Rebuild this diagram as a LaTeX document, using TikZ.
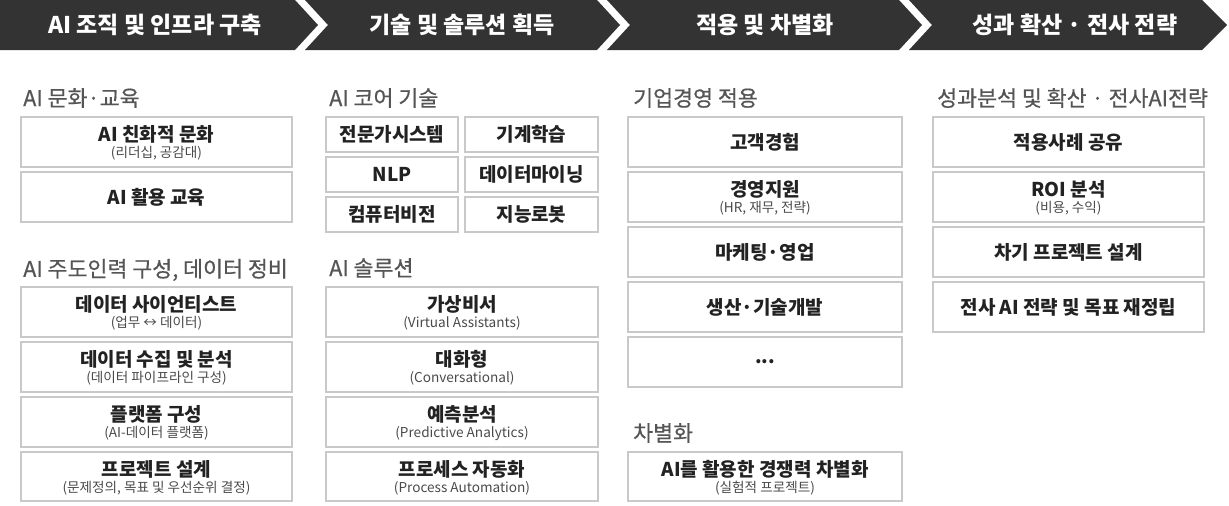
\documentclass[tikz,border=0pt]{standalone}
\usepackage{fontspec}
\setmainfont{Noto Sans CJK KR}
\newfontfamily\secfont{Noto Sans CJK KR}[FakeBold=0.6]
\definecolor{hdr}{HTML}{333333}
\definecolor{bord}{HTML}{C9C9C9}
\definecolor{sectxt}{HTML}{555555}
\definecolor{maintxt}{HTML}{222222}
\definecolor{subtxt}{HTML}{4A4A4A}
\tikzset{
  chev/.style={fill=hdr, draw=none},
  hdrtext/.style={text=white, font=\fontsize{23}{26}\selectfont\bfseries, inner sep=0pt},
  sectitle/.style={text=sectxt, font=\secfont\fontsize{21.7}{25}\selectfont, anchor=west, inner sep=0pt},
  boxs/.style={draw=bord, line width=1.3pt, rectangle, inner sep=0pt},
  maintext/.style={text=maintxt, font=\fontsize{19}{22}\selectfont\bfseries, inner sep=0pt},
  subtext/.style={text=subtxt, font=\fontsize{13.6}{16}\selectfont, inner sep=0pt}
}
\newcommand{\twobox}[7]{%
  \node[boxs, minimum width={#4-#2}, minimum height={#5-#3}] (#1) at ({(#2+#4)/2},{(#3+#5)/2}) {};
  \node[maintext, anchor=base] (#1m) at ([yshift=0.5pt]#1.center) {#6};
  \node[subtext, anchor=base] (#1s) at ([yshift=-15.5pt]#1.center) {#7};
}
\newcommand{\onebox}[6]{%
  \node[boxs, minimum width={#4-#2}, minimum height={#5-#3}] (#1) at ({(#2+#4)/2},{(#3+#5)/2}) {};
  \node[maintext] (#1m) at (#1.center) {#6};
}
\begin{document}
\begin{tikzpicture}[x=1pt,y=-1pt]
\useasboundingbox (0,0) rectangle (1229,506);
% header chevrons
\path[chev] (0,0) -- (295,0) -- (318,25) -- (295,50) -- (0,50) -- cycle;
\path[chev] (305,0) -- (597,0) -- (620,25) -- (597,50) -- (305,50) -- (328,25) -- cycle;
\path[chev] (607,0) -- (899,0) -- (922,25) -- (899,50) -- (607,50) -- (630,25) -- cycle;
\path[chev] (909,0) -- (1202,0) -- (1227,25) -- (1202,50) -- (909,50) -- (932,25) -- cycle;
\node[hdrtext] (h1) at (155,25) {AI 조직 및 인프라 구축};
\node[hdrtext] (h2) at (462,25) {기술 및 솔루션 획득};
\node[hdrtext] (h3) at (765,25) {적용 및 차별화};
\node[hdrtext] (h4) at (1075,25) {성과 확산 · 전사 전략};
% column 1
\node[sectitle] (t1a) at (23,98) {AI 문화·교육};
\twobox{c1a}{21}{117}{292}{167}{AI 친화적 문화}{(리더십, 공감대)}
\onebox{c1b}{21}{172}{292}{222}{AI 활용 교육}
\node[sectitle] (t1b) at (23,270) {AI 주도인력 구성, 데이터 정비};
\twobox{c1c}{21}{287}{292}{337}{데이터 사이언티스트}{(업무 ↔ 데이터)}
\twobox{c1d}{21}{342}{292}{392}{데이터 수집 및 분석}{(데이터 파이프라인 구성)}
\twobox{c1e}{21}{397}{292}{447}{플랫폼 구성}{(AI-데이터 플랫폼)}
\twobox{c1f}{21}{452}{292}{501}{프로젝트 설계}{(문제정의, 목표 및 우선순위 결정)}
% column 2
\node[sectitle] (t2a) at (329,98) {AI 코어 기술};
\onebox{g1}{326}{117}{458}{152}{전문가시스템}
\onebox{g2}{465}{117}{598}{152}{기계학습}
\onebox{g3}{326}{157}{458}{192}{NLP}
\onebox{g4}{465}{157}{598}{192}{데이터마이닝}
\onebox{g5}{326}{197}{458}{232}{컴퓨터비전}
\onebox{g6}{465}{197}{598}{232}{지능로봇}
\node[sectitle] (t2b) at (329,268) {AI 솔루션};
\twobox{c2a}{326}{287}{598}{337}{가상비서}{(Virtual Assistants)}
\twobox{c2b}{326}{342}{598}{392}{대화형}{(Conversational)}
\twobox{c2c}{326}{397}{598}{447}{예측분석}{(Predictive Analytics)}
\twobox{c2d}{326}{452}{598}{501}{프로세스 자동화}{(Process Automation)}
% column 3
\node[sectitle] (t3a) at (633,98) {기업경영 적용};
\onebox{c3a}{628}{117}{902}{167}{고객경험}
\twobox{c3b}{628}{172}{902}{222}{경영지원}{(HR, 재무, 전략)}
\onebox{c3c}{628}{227}{902}{277}{마케팅·영업}
\onebox{c3d}{628}{282}{902}{332}{생산·기술개발}
\onebox{c3e}{628}{337}{902}{387}{...}
\node[sectitle] (t3b) at (633,433) {차별화};
\twobox{c3f}{628}{452}{902}{501}{AI를 활용한 경쟁력 차별화}{(실험적 프로젝트)}
% column 4
\node[sectitle] (t4a) at (937,98) {성과분석 및 확산 · 전사AI전략};
\onebox{c4a}{933}{117}{1204}{167}{적용사례 공유}
\twobox{c4b}{933}{172}{1204}{222}{ROI 분석}{(비용, 수익)}
\onebox{c4c}{933}{227}{1204}{277}{차기 프로젝트 설계}
\onebox{c4d}{933}{282}{1204}{332}{전사 AI 전략 및 목표 재정립}
\end{tikzpicture}
\end{document}
